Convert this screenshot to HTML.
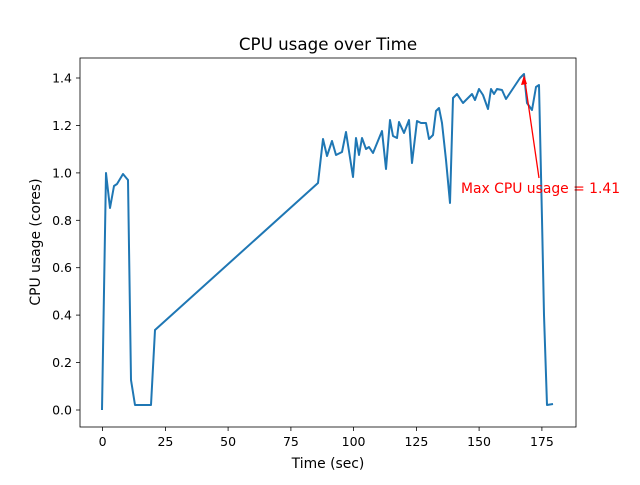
<!DOCTYPE html><html><head><style>body{margin:0;background:#fff}svg text{font-family:"DejaVu Sans","Liberation Sans",sans-serif}</style></head><body>
<svg width="640" height="480" xmlns="http://www.w3.org/2000/svg">
<rect width="640" height="480" fill="#fff"/>
<polyline fill="none" stroke="#1f77b4" stroke-width="2" stroke-linejoin="round" points="102,410 106,173 110,208 114,186 117,184 123,174 128,180 131,380 135,405 151,405 155,330 318,183 323,139 327,156 332,141 336,155 342,152 346,132 353,177 356,138 359,155 362,138 366,149 369,147 373,153 382,131 386,169 390,120 393,136 397,138 399,122 404,133 409,120 412,163 417,121 421,123 426,123 429,139 433,135 436,111 439,108 442,123 446,160 450,203 453,98 457,94 463,103 472,94 475,100 479,89 483,95 488,109 491,89 494,94 497,89 502,90 506,99 520,78 524,74 527,103 532,110 536,87 539,85 542,219 544,315 547,405 553,404"/>
<line x1="539" y1="178" x2="524.5" y2="78" stroke="red" stroke-width="1.3"/>
<polygon points="524,75 521,85 527,84" fill="red"/>
<text x="461" y="193" font-size="13.9" fill="red">Max CPU usage = 1.41</text>
<rect x="80" y="58" width="496" height="369" fill="none" stroke="#000" stroke-width="0.8"/>
<g stroke="#000" stroke-width="0.8">
<line x1="102.6" y1="427" x2="102.6" y2="431"/><line x1="165.4" y1="427" x2="165.4" y2="431"/><line x1="228.1" y1="427" x2="228.1" y2="431"/><line x1="290.9" y1="427" x2="290.9" y2="431"/><line x1="353.6" y1="427" x2="353.6" y2="431"/><line x1="416.4" y1="427" x2="416.4" y2="431"/><line x1="479.1" y1="427" x2="479.1" y2="431"/><line x1="541.9" y1="427" x2="541.9" y2="431"/>
<line x1="76" y1="410" x2="80" y2="410"/><line x1="76" y1="362.6" x2="80" y2="362.6"/><line x1="76" y1="315.1" x2="80" y2="315.1"/><line x1="76" y1="267.7" x2="80" y2="267.7"/><line x1="76" y1="220.3" x2="80" y2="220.3"/><line x1="76" y1="172.9" x2="80" y2="172.9"/><line x1="76" y1="125.4" x2="80" y2="125.4"/><line x1="76" y1="78" x2="80" y2="78"/>
</g>
<g font-size="12.5" text-anchor="middle">
<text x="102.6" y="446">0</text><text x="165.4" y="446">25</text><text x="228.1" y="446">50</text><text x="290.9" y="446">75</text><text x="353.6" y="446">100</text><text x="416.4" y="446">125</text><text x="479.1" y="446">150</text><text x="541.9" y="446">175</text>
</g>
<g font-size="12.5" text-anchor="end">
<text x="72" y="414.5">0.0</text><text x="72" y="367">0.2</text><text x="72" y="319.6">0.4</text><text x="72" y="272.2">0.6</text><text x="72" y="224.8">0.8</text><text x="72" y="177.4">1.0</text><text x="72" y="129.9">1.2</text><text x="72" y="82.5">1.4</text>
</g>
<text x="328" y="468" font-size="13.9" text-anchor="middle">Time (sec)</text>
<text transform="translate(40,242) rotate(-90)" font-size="13.9" text-anchor="middle">CPU usage (cores)</text>
<text x="328" y="50" font-size="16.7" text-anchor="middle">CPU usage over Time</text>
</svg></body></html>
